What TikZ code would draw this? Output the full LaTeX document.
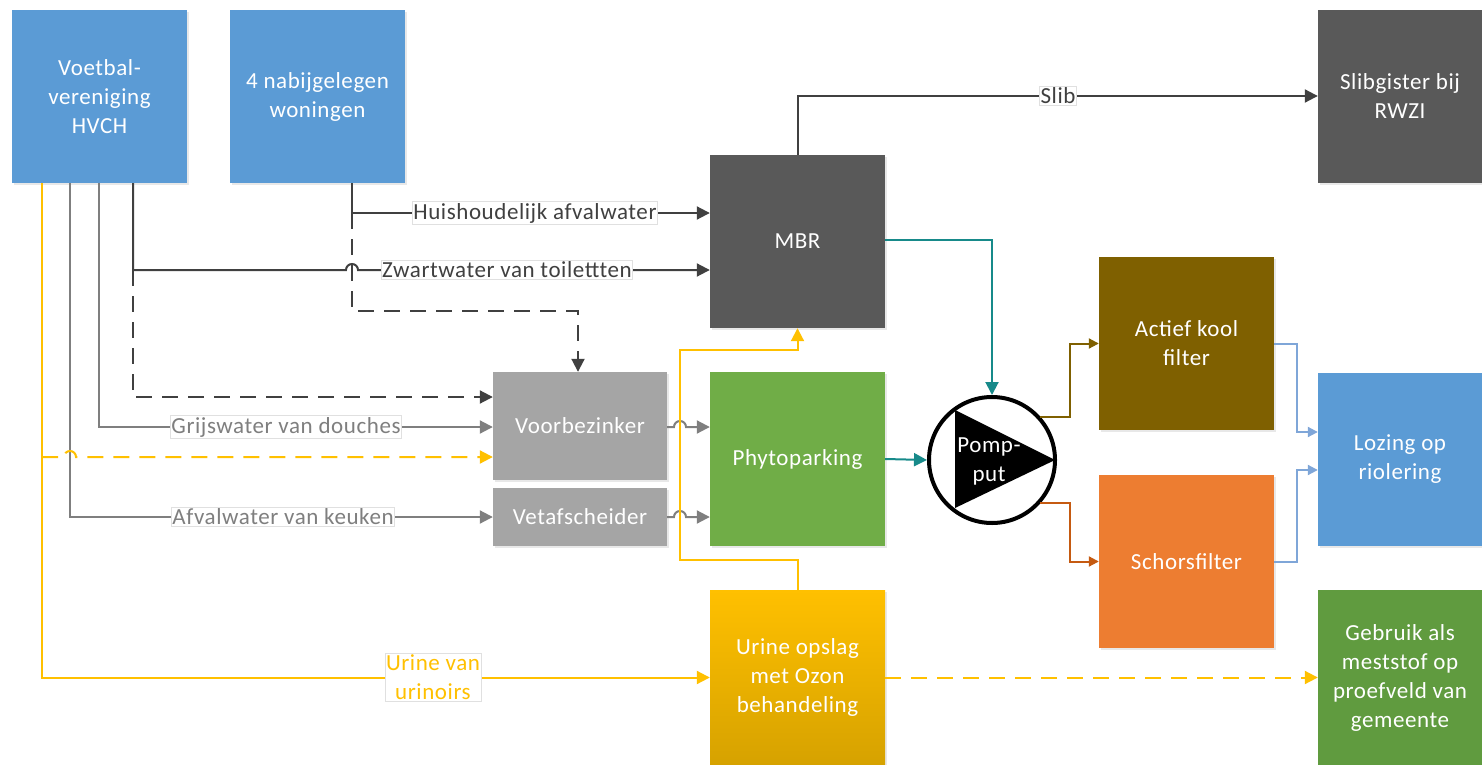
\documentclass[tikz,border=0pt]{standalone}
\usepackage{fontspec}
\setmainfont{Carlito}[LetterSpace=2.5]
\usetikzlibrary{arrows.meta,calc,shadows}
\definecolor{cblue}{HTML}{5B9BD5}
\definecolor{cdark}{HTML}{595959}
\definecolor{cgray}{HTML}{A5A5A5}
\definecolor{cgreen}{HTML}{70AD47}
\definecolor{cgreenb}{HTML}{609B3F}
\definecolor{cbrown}{HTML}{7F6000}
\definecolor{corange}{HTML}{ED7D31}
\definecolor{cgold}{HTML}{FFC000}
\definecolor{cgoldd}{HTML}{D6A200}
\definecolor{lnDark}{HTML}{404040}
\definecolor{lnGray}{HTML}{7F7F7F}
\definecolor{lnTeal}{HTML}{178A8A}
\definecolor{lnBrown}{HTML}{7F6000}
\definecolor{lnOrange}{HTML}{C55A11}
\definecolor{lnBlue}{HTML}{7FA6D8}
\begin{document}
\begin{tikzpicture}[x=1pt,y=-1pt,
  box/.style={draw=none, minimum width=175pt, minimum height=173pt, inner sep=2pt,
    text=white, align=center, font=\fontsize{23}{29}\selectfont,
    drop shadow={opacity=0.18,shadow xshift=2pt,shadow yshift=-2pt}},
  lbl/.style={fill=white, draw=black!12, line width=0.6pt, inner xsep=1pt, inner ysep=1.5pt,
    font=\fontsize{23}{29}\selectfont, align=center},
  conn/.style={line width=2pt, -{Triangle[length=13pt,width=13pt]}},
  connsm/.style={line width=2pt, -{Triangle[length=10pt,width=10pt]}},
  dsh/.style={dash pattern=on 16pt off 10pt},
]
\useasboundingbox (0,0) rectangle (1482,765);

% boxes
\node[box, fill=cblue] (voet) at (99.5,96.5) {Voetbal-\\vereniging\\HVCH};
\node[box, fill=cblue] (won) at (317.5,96.5) {4 nabijgelegen\\woningen};
\node[box, fill=cdark, minimum width=164pt] (slibg) at (1400,96.5) {Slibgister bij\\RWZI};
\node[box, fill=cdark] (mbr) at (797.5,241.5) {MBR};
\node[box, fill=cgray, minimum width=174pt, minimum height=108pt] (voorb) at (580,426) {Voorbezinker};
\node[box, fill=cgray, minimum width=174pt, minimum height=58pt] (vet) at (580,517) {Vetafscheider};
\node[box, fill=cgreen, minimum height=174pt] (phyto) at (797.5,459) {Phytoparking};
\node[box, fill=cbrown] (akf) at (1186.5,343.5) {Actief kool\\filter};
\node[box, fill=corange] (schors) at (1186.5,561.5) {Schorsfilter};
\node[box, fill=cblue, minimum width=164pt] (loz) at (1400,459.5) {Lozing op\\riolering};
\node[box, fill=cgreenb, minimum width=164pt, minimum height=175pt] (gebr) at (1400,677.5) {Gebruik als\\meststof op\\proefveld van\\gemeente};
\node[box, top color=cgold, bottom color=cgoldd, minimum height=175pt] (urine) at (797.5,677.5) {Urine opslag\\met Ozon\\behandeling};

% pump
\node[circle, draw=black, line width=4pt, fill=white, minimum size=126pt, inner sep=0pt] (pump) at (992,460) {};
\fill[black] (955,410) -- (955,508) -- (1055,460) -- cycle;
\node[text=white, align=center, font=\fontsize{23}{29}\selectfont] (pumptxt) at (989,461) {Pomp-\\put};

% junction coordinates
\coordinate (jz) at (133,270);
\coordinate (jw) at (352,213);
\coordinate (jy) at (42,457);

% connectors from Voetbal
\draw[conn, color=cgold] (voet.south -| 42,0) |- (urine.west);
\draw[conn, color=lnGray] (voet.south -| 70,0) |- (vet.west);
\draw[conn, color=lnGray] (voet.south -| 99,0) |- (voorb.west |- 0,427);
\draw[conn, color=lnDark] (voet.south -| 133,0) |- (346,270) arc[start angle=180,end angle=360,radius=6] -- (mbr.west |- 0,270);
\draw[conn, dsh, color=lnDark] (jz) |- (voorb.west |- 0,397);
\draw[conn, dsh, color=cgold] (jy) -- (64,457) arc[start angle=180,end angle=360,radius=6] -- (voorb.west |- 0,457);

% connectors from woningen
\draw[conn, color=lnDark] (won.south -| 352,0) |- (mbr.west |- 0,213);
\draw[conn, dsh, color=lnDark] (jw) |- (578,311) -- (voorb.north -| 578,0);

% pre-treatment to phyto
\draw[conn, color=lnGray] (voorb.east |- 0,427) -- (674,427) arc[start angle=180,end angle=360,radius=6] -- (phyto.west |- 0,427);
\draw[conn, color=lnGray] (vet.east) -- (674,517) arc[start angle=180,end angle=360,radius=6] -- (phyto.west |- 0,517);

% urine
\draw[conn, color=cgold] (urine.north) |- (680,560) |- (797.5,350) -- (mbr.south);
\draw[conn, dsh, color=cgold] (urine.east) -- (gebr.west);

% MBR
\draw[conn, color=lnDark] (mbr.north) |- (slibg.west |- 0,96);
\draw[conn, color=lnTeal] (mbr.east |- 0,240) -| (pump.north);
\draw[conn, color=lnTeal] (phyto.east) -- (pump.west);

% pump outputs
\draw[connsm, color=lnBrown] (pump.42) -- (pump.42 -| 1070,0) |- (akf.west);
\draw[connsm, color=lnOrange] (pump.-42) -- (pump.-42 -| 1070,0) |- (schors.west);
\draw[connsm, color=lnBlue] (akf.east) -- (akf.east -| 1297,0) |- (loz.west |- 0,432);
\draw[connsm, color=lnBlue] (schors.east) -- (schors.east -| 1297,0) |- (loz.west |- 0,470);

% labels
\node[lbl, text=lnDark] (lhuis) at (535,213) {Huishoudelijk afvalwater};
\node[lbl, text=lnDark] (lzwart) at (507,270) {Zwartwater van toilettten};
\node[lbl, text=lnGray] (lgrijs) at (286,427) {Grijswater van douches};
\node[lbl, text=lnGray] (lkeuk) at (283,517) {Afvalwater van keuken};
\node[lbl, text=cgold] (lurine) at (433,677) {Urine van\\urinoirs};
\node[lbl, text=lnDark] (lslib) at (1058,96) {Slib};
\end{tikzpicture}
\end{document}
